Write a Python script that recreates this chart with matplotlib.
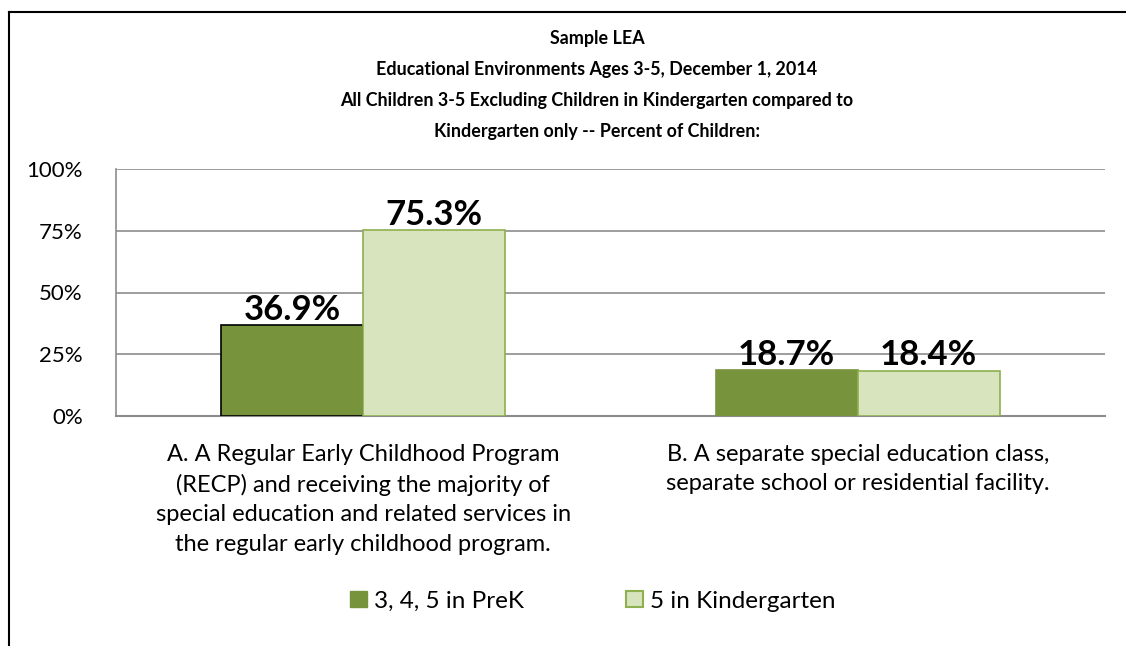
import matplotlib
matplotlib.use("Agg")
import matplotlib.pyplot as plt
from matplotlib.lines import Line2D
from matplotlib.patches import Patch

categories = ["A. A Regular Early Childhood Program\n(RECP) and receiving the majority of\nspecial education and related services in\nthe regular early childhood program.",
              "B. A separate special education class,\nseparate school or residential facility."]
series_names = ["3, 4, 5 in PreK", "5 in Kindergarten"]
prek = [36.9, 18.7]
kinder = [75.3, 18.4]
yticks = [0, 25, 50, 75, 100]
title = ("Sample LEA\nEducational Environments Ages 3-5, December 1, 2014\n"
         "All Children 3-5 Excluding Children in Kindergarten compared to\n"
         "Kindergarten only -- Percent of Children:")

plt.rcParams['font.family'] = ['Lato', 'DejaVu Sans']

fig = plt.figure(figsize=(11.26, 6.46), dpi=100)
W, H = 1126, 646
ax = fig.add_axes([116 / W, 1 - 416 / H, (1105 - 116) / W, (416 - 169) / H])

dark = "#77933C"
light = "#D7E4BD"
light_edge = "#8EB04E"
bw = 0.287
x = list(range(len(categories)))
b1 = ax.bar([i - bw / 2 for i in x], prek, width=bw, color=dark,
            edgecolor=["#000000", dark], linewidth=1.2, zorder=3)
b2 = ax.bar([i + bw / 2 for i in x], kinder, width=bw, color=light,
            edgecolor=light_edge, linewidth=1.2, zorder=3)

for bars, vals in ((b1, prek), (b2, kinder)):
    for r, v in zip(bars, vals):
        ax.text(r.get_x() + r.get_width() / 2, v - 0.3, f"{v:.1f}%",
                ha="center", va="bottom", fontsize=25, fontweight="bold",
                color="black", zorder=4)

ax.set_xlim(-0.5, 1.5)
ax.set_ylim(0, 100)
ax.set_yticks(yticks)
ax.set_yticklabels([f"{t}%" for t in yticks], fontsize=16)
ax.yaxis.grid(True, color="#8C8C8C", linewidth=1.2, zorder=0)
ax.set_axisbelow(True)
ax.set_xticks(x)
ax.set_xticklabels(categories, fontsize=17, va="top", linespacing=1.5)
ax.tick_params(axis="x", length=0, pad=20)
ax.tick_params(axis="y", length=0, pad=24)
for s in ("top", "right"):
    ax.spines[s].set_visible(False)
ax.spines["left"].set_color("#8C8C8C")
ax.spines["bottom"].set_color("#8C8C8C")
ax.spines["left"].set_linewidth(1.2)
ax.spines["bottom"].set_linewidth(1.5)

fig.text(597 / W, 1 - 30 / H, title, ha="center", va="top",
         fontsize=12.9, fontweight="bold", linespacing=1.99)

handles = [Patch(facecolor=dark, edgecolor=dark, label=series_names[0]),
           Patch(facecolor=light, edgecolor=light_edge, linewidth=1.5, label=series_names[1])]
fig.legend(handles=handles, loc="center", bbox_to_anchor=(593 / W, 1 - 601 / H),
           ncol=2, frameon=False, fontsize=17.5, handlelength=0.68, handleheight=0.68,
           handletextpad=0.3, columnspacing=4.2)

# partial border: left and top lines
fig.add_artist(Line2D([9 / W, 9 / W], [0, 1 - 12 / H], color="black", linewidth=1.5))
fig.add_artist(Line2D([9 / W, 1], [1 - 12 / H, 1 - 12 / H], color="black", linewidth=1.5))

fig.savefig("out.png", dpi=100)
